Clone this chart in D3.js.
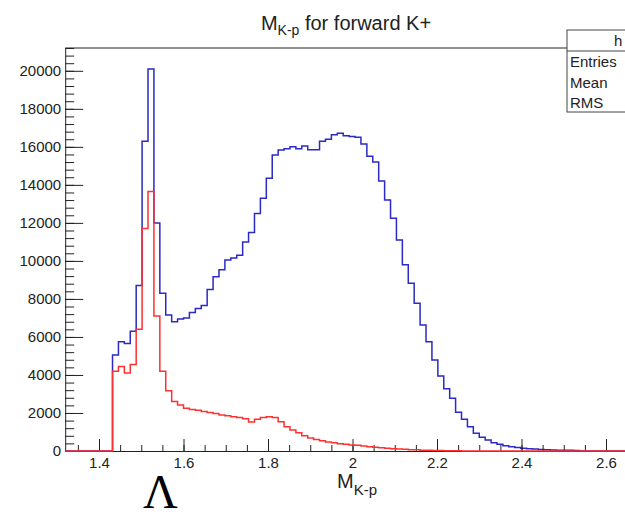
<!DOCTYPE html>
<html><head><meta charset="utf-8">
<script src="https://cdn.jsdelivr.net/npm/d3@7"></script>
<style>
html,body{margin:0;padding:0;background:#fff;overflow:hidden}
svg{display:block;font-family:"Liberation Sans",Arial,Helvetica,sans-serif}
</style></head>
<body><svg id="c" width="625" height="519"></svg>
<script>
// ---- data ----
const histLow = 1.32, histHigh = 2.72, nBins = 100;
const firstBlueBin = 8;
const blueCounts = [5050,5750,5650,6300,8700,16300,20100,12000,8300,7150,
  6800,6950,7000,7280,7500,7650,8500,9170,9530,10050,
  10150,10300,11000,11500,12500,13300,14350,15570,15840,15900,
  16000,15900,16050,15850,15850,16300,16400,16630,16720,16580,
  16550,16500,16150,15500,15200,14200,13200,12250,11100,9800,
  8830,7770,6630,5750,4790,3950,3280,2770,2040,1670,
  1280,930,720,580,440,350,280,230,180,150,
  120,100,80,60,50,45,40,35,30];
const firstRedBin = 8;
const redCounts = [4200,4450,4100,4550,6400,11700,13650,7100,4200,3170,
  2600,2420,2250,2180,2150,2080,2030,1970,1900,1860,
  1800,1760,1700,1530,1670,1760,1800,1760,1540,1280,
  1100,960,800,680,600,540,470,430,380,350,
  320,300,260,230,200,170,150,120,100,90,
  70,60,45,35,25,20,15,10,8];
const xMajorTicks = [1.4,1.6,1.8,2.0,2.2,2.4,2.6];
const xMinorStep = 0.05;
const yMajorTicks = [0,2000,4000,6000,8000,10000,12000,14000,16000,18000,20000];
const yMinorStep = 400;
const yMax = 21200;
const titleMain = "M", titleSub = "K-p", titleRest = " for forward K+";
const statsLabels = ["Entries","Mean","RMS"];
const statsName = "h";

// ---- layout ----
const svg = d3.select("#c");
const L = 65.2, R = 656.7, T = 48, B = 451;
const x = d3.scaleLinear().domain([histLow, histHigh]).range([L, R]);
const y = d3.scaleLinear().domain([0, yMax]).range([B, T]);
const binW = (histHigh - histLow) / nBins;

function fullBins(first, counts){
  const a = new Array(nBins).fill(0);
  counts.forEach((c,i)=>{a[first+i]=c;});
  return a;
}
function stepPath(vals){
  const pts = [];
  vals.forEach((v,i)=>{
    const x0 = histLow + i*binW, x1 = histLow + (i+1)*binW;
    pts.push([x(x0), y(v)], [x(x1), y(v)]);
  });
  return d3.line()(pts);
}

// frame
svg.append("line").attr("x1",L).attr("x2",567).attr("y1",T).attr("y2",T)
  .attr("stroke","#222").attr("stroke-width",1);

// histograms
svg.append("path").attr("d", stepPath(fullBins(firstBlueBin, blueCounts)))
  .attr("fill","none").attr("stroke","#2a2ac4").attr("stroke-width",1.5);

// axes
const yAxis = d3.axisLeft(y).tickValues(yMajorTicks).tickSizeInner(-18).tickSizeOuter(0)
  .tickPadding(4).tickFormat(d3.format("d"));
const gy = svg.append("g").attr("transform",`translate(${L},0)`).call(yAxis);
const yMinor = d3.range(0, yMax+1, yMinorStep);
svg.append("g").attr("transform",`translate(${L},0)`)
  .call(d3.axisLeft(y).tickValues(yMinor).tickSizeInner(-9).tickSizeOuter(0).tickFormat(""))
  .select(".domain").remove();

const xAxis = d3.axisBottom(x).tickValues(xMajorTicks).tickSizeInner(-12).tickSizeOuter(0)
  .tickPadding(6).tickFormat(d=> d3.format("~g")(d));
const gx = svg.append("g").attr("transform",`translate(0,${B})`).call(xAxis);
const xMinor = d3.range(1.35, histHigh, xMinorStep);
svg.append("g").attr("transform",`translate(0,${B})`)
  .call(d3.axisBottom(x).tickValues(xMinor).tickSizeInner(-6).tickSizeOuter(0).tickFormat(""))
  .select(".domain").remove();

[gx, gy].forEach(g=>{
  g.selectAll("text").attr("font-size",15).attr("fill","#222")
   .attr("font-family","'Liberation Sans',Arial,sans-serif");
  g.selectAll("line,path").attr("stroke","#222");
});
svg.selectAll(".tick line").attr("stroke","#222");

// red histogram on top
svg.append("path").attr("d", stepPath(fullBins(firstRedBin, redCounts)))
  .attr("fill","none").attr("stroke","#ff3030").attr("stroke-width",1.5);

// title
const t = svg.append("text").attr("x",346).attr("y",30).attr("text-anchor","middle")
  .attr("font-size",20).attr("fill","#222");
t.append("tspan").text(titleMain);
t.append("tspan").attr("font-size",14).attr("dy",5).text(titleSub);
t.append("tspan").attr("dy",-5).text(titleRest);

// x-axis title
const xt = svg.append("text").attr("x",337).attr("y",488).attr("font-size",20).attr("fill","#222");
xt.append("tspan").text("M");
xt.append("tspan").attr("font-size",15).attr("dy",7).text("K-p");

// stats box
const sb = svg.append("g");
sb.append("rect").attr("x",567).attr("y",30).attr("width",120).attr("height",82)
  .attr("fill","#fff").attr("stroke","#444").attr("stroke-width",1);
sb.append("line").attr("x1",567).attr("x2",690).attr("y1",51).attr("y2",51).attr("stroke","#444");
sb.append("text").attr("x",614).attr("y",46).attr("font-size",15).attr("fill","#222").text(statsName);
statsLabels.forEach((s,i)=>{
  sb.append("text").attr("x",570).attr("y",67+i*20.5).attr("font-size",15).attr("fill","#222").text(s);
});

// Lambda annotation
svg.append("text").attr("x",143).attr("y",508).attr("font-size",48)
  .attr("font-family","'Liberation Serif','Times New Roman',serif").attr("fill","#000").text("Λ");
</script></body></html>
